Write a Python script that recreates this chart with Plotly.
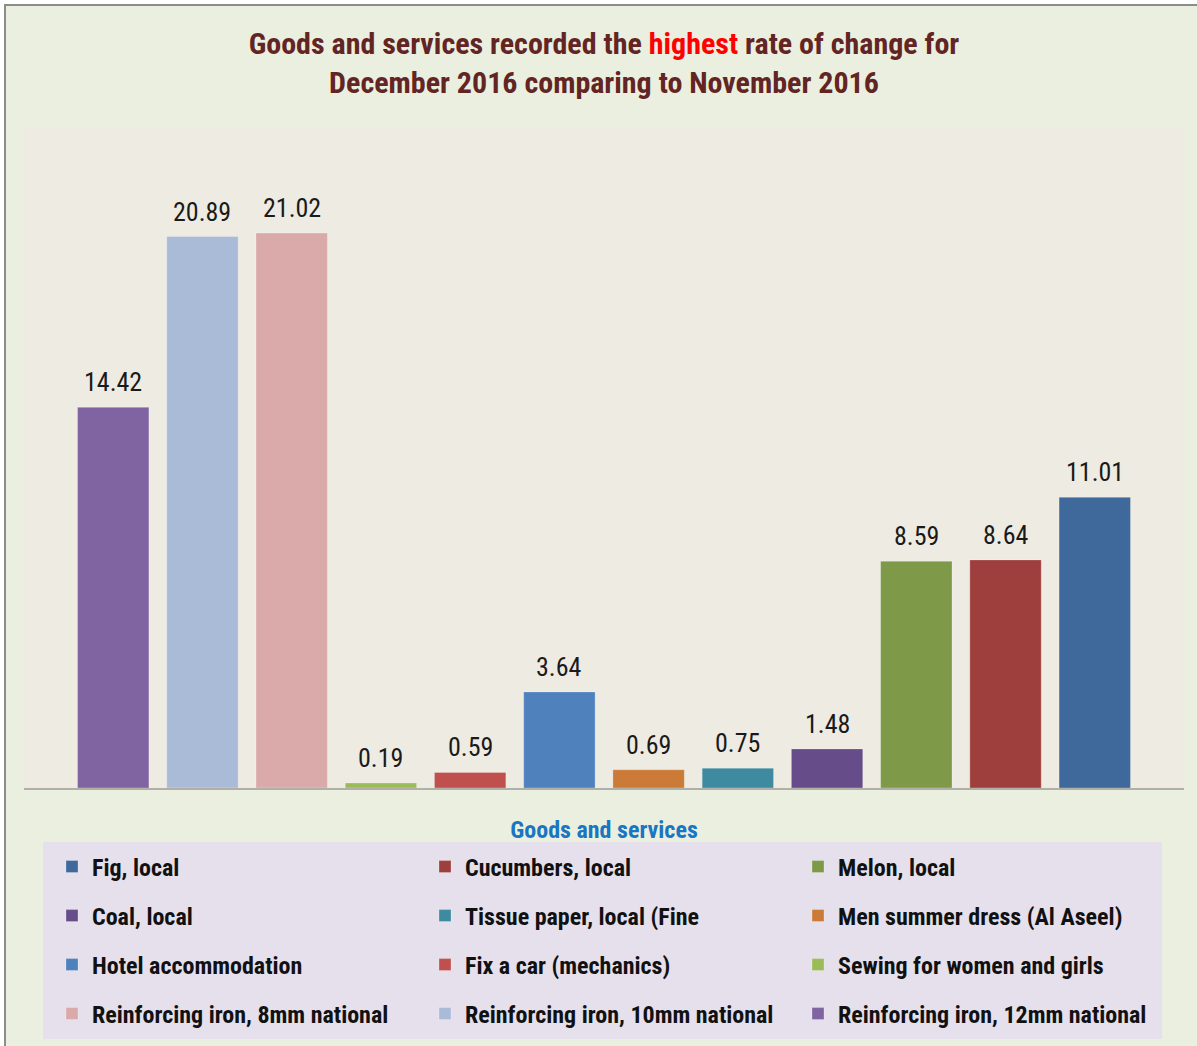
import plotly.graph_objects as go

# ---- data (bar order, left to right) ----
categories = [
    "Reinforcing iron, 12mm national",
    "Reinforcing iron, 10mm national",
    "Reinforcing iron, 8mm national",
    "Sewing for women and girls",
    "Fix a car (mechanics)",
    "Hotel accommodation",
    "Men summer dress (Al Aseel)",
    "Tissue paper, local (Fine",
    "Coal, local",
    "Melon, local",
    "Cucumbers, local",
    "Fig, local",
]
values = [14.42, 20.89, 21.02, 0.19, 0.59, 3.64, 0.69, 0.75, 1.48, 8.59, 8.64, 11.01]
colors = [
    "#8064A2", "#AABBD8", "#DAA9AA", "#9BBB59", "#C0504D", "#4F81BD",
    "#CC7A37", "#3E8BA1", "#664D8A", "#7E9A48", "#9E3F3D", "#3E699A",
]

FONT = "Liberation Sans Narrow, Arial Narrow, Roboto Condensed, Roboto, sans-serif"

W, H = 1197, 1046
ML, MR, MT, MB = 24, 13, 128, 258
PW, PH = W - ML - MR, H - MT - MB


def px_x(x):
    return (x - ML) / PW


def px_y(y):
    return (H - MB - y) / PH


fig = go.Figure()

n = len(categories)
for i, (cat, val, col) in enumerate(zip(categories, values, colors)):
    row = (n - 1 - i) // 3 + 1
    fig.add_trace(go.Bar(
        x=[cat], y=[val], name=cat,
        marker=dict(color=col, line=dict(color="rgba(255,255,255,0.25)", width=1)),
        legend="legend" if row == 1 else f"legend{row}",
        hoverinfo="x+y",
    ))

# value labels above the bars
annotations = [
    dict(x=cat, y=val, xref="x", yref="y", text=f"{val:.2f}", showarrow=False,
         yanchor="bottom", yshift=8,
         font=dict(family=FONT, size=26, color="#1A1A1A"))
    for cat, val in zip(categories, values)
]

shapes = [
    # outer frame
    dict(type="rect", xref="paper", yref="paper", layer="below",
         x0=px_x(5), x1=px_x(1205), y0=px_y(5), y1=px_y(1055),
         fillcolor="#EBEFDF", line=dict(color="#8C8C8C", width=2)),
    # plot area background
    dict(type="rect", xref="paper", yref="paper", layer="below",
         x0=px_x(23), x1=px_x(1184), y0=px_y(128), y1=px_y(788),
         fillcolor="#EEEBE3", line=dict(width=0)),
    # legend background
    dict(type="rect", xref="paper", yref="paper", layer="below",
         x0=px_x(43), x1=px_x(1162), y0=px_y(842), y1=px_y(1039),
         fillcolor="#E5E0EC", line=dict(width=0)),
]

row_centers = [867, 916, 965, 1014]
legend_layouts = {}
for r, yc in enumerate(row_centers, start=1):
    key = "legend" if r == 1 else f"legend{r}"
    legend_layouts[key] = dict(
        orientation="h", xref="container", yref="container",
        x=52 / W, xanchor="left", y=1 - yc / H, yanchor="middle",
        entrywidth=328, entrywidthmode="pixels", traceorder="reversed",
        bgcolor="rgba(0,0,0,0)", borderwidth=0,
        font=dict(family=FONT, size=24, color="#111111", weight="bold"),
    )

fig.update_layout(
    width=W, height=H,
    margin=dict(l=ML, r=MR, t=MT, b=MB, autoexpand=False),
    paper_bgcolor="white",
    plot_bgcolor="rgba(0,0,0,0)",
    barmode="overlay",
    bargap=0.2,
    showlegend=True,
    title=dict(
        text=("<b>Goods and services recorded the <span style='color:#FF0000'>highest</span> "
              "rate of change for<br>December 2016 comparing to November 2016</b>"),
        x=0.5, xref="paper", xanchor="center",
        y=1 - 54 / H, yref="container", yanchor="middle",
        font=dict(family=FONT, size=30, color="#632523"),
    ),
    xaxis=dict(
        type="category", categoryorder="array", categoryarray=categories,
        range=[-1, n], showticklabels=False, ticks="",
        showline=True, linecolor="#B0B0A8", linewidth=2, showgrid=False, zeroline=False,
        title=dict(text="<b>Goods and services</b>", standoff=35,
                   font=dict(family=FONT, size=24, color="#1A75C2")),
    ),
    yaxis=dict(range=[0, 25], visible=False, showgrid=False, zeroline=False),
    shapes=shapes,
    annotations=annotations,
    **legend_layouts,
)

fig.write_html(
    "out.html",
    config={"displayModeBar": False},
    post_script="document.body.style.margin='0px';document.body.style.overflow='hidden';",
)
